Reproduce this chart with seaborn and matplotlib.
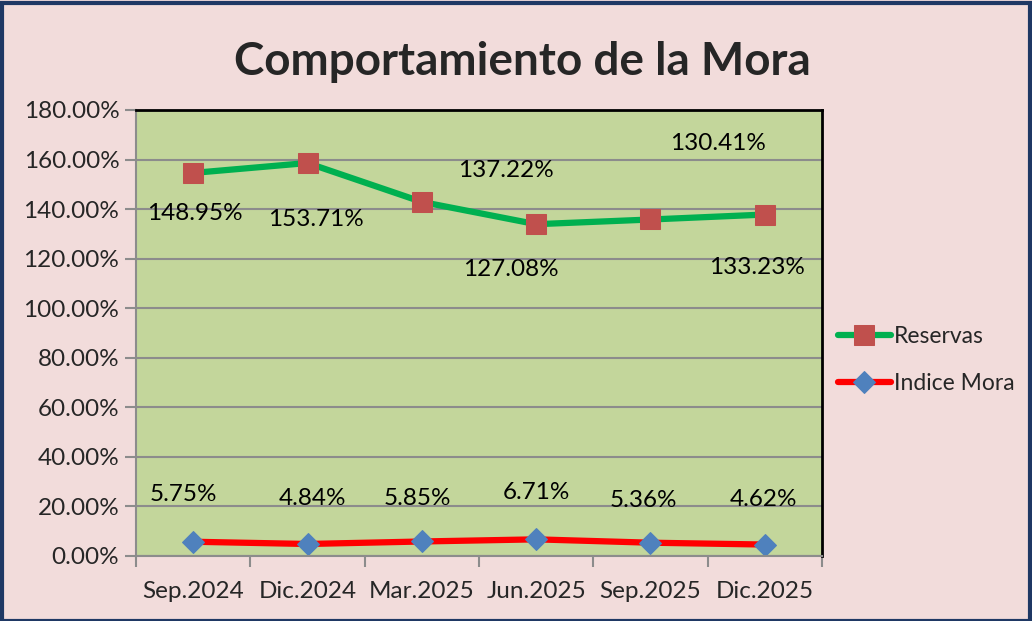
import pandas as pd
import matplotlib.pyplot as plt
import seaborn as sns
from matplotlib.patches import Rectangle
from matplotlib.ticker import FixedLocator, FuncFormatter

# Data
periodos = ['Sep.2024', 'Dic.2024', 'Mar.2025', 'Jun.2025', 'Sep.2025', 'Dic.2025']
reservas = [154.6, 158.6, 142.9, 133.9, 135.8, 137.8]
reservas_labels = ['148.95%', '153.71%', '137.22%', '127.08%', '130.41%', '133.23%']
mora = [5.75, 4.84, 5.85, 6.71, 5.36, 4.62]
mora_labels = ['5.75%', '4.84%', '5.85%', '6.71%', '5.36%', '4.62%']

# label offsets in pixels (Excel labels were dragged around)
res_off = [(2, -41), (8, -56), (84, 31), (-25, -45), (67, 76), (-8, -53)]
mora_off = [(-10, 47), (5, 45), (-4, 43), (0, 47), (-7, 42), (-1, 45)]

df = pd.DataFrame({'Periodo': periodos, 'Reservas': reservas, 'Indice Mora': mora})

sns.set_theme(style='white')
plt.rcParams['font.family'] = ['Lato', 'DejaVu Sans']

fig = plt.figure(figsize=(10.32, 6.21), dpi=100, facecolor='#F2DCDB')
fig.patches.append(Rectangle((0.002, 0.0), 0.996, 0.995, transform=fig.transFigure,
                             fill=False, edgecolor='#1F3864', lw=3))
ax = fig.add_axes([0.1318, 0.1047, 0.6647, 0.7182])
ax.set_facecolor('#C3D69B')

sns.lineplot(data=df, x='Periodo', y='Reservas', ax=ax, color='#00B050', lw=4.5,
             marker='s', markersize=14, markerfacecolor='#C0504D', markeredgecolor='#C0504D',
             label='Reservas', sort=False)
sns.lineplot(data=df, x='Periodo', y='Indice Mora', ax=ax, color='#FF0000', lw=4.5,
             marker='D', markersize=11, markerfacecolor='#4F81BD', markeredgecolor='#4F81BD',
             label='Indice Mora', sort=False)

for i, (v, t) in enumerate(zip(reservas, reservas_labels)):
    ax.annotate(t, (i, v), xytext=res_off[i], textcoords='offset pixels',
                ha='center', va='center', fontsize=17.5, color='black')
for i, (v, t) in enumerate(zip(mora, mora_labels)):
    ax.annotate(t, (i, v), xytext=mora_off[i], textcoords='offset pixels',
                ha='center', va='center', fontsize=17.5, color='black')

ax.set_xlim(-0.5, 5.5)
ax.set_ylim(0, 180)
ax.set_yticks(range(0, 181, 20))
ax.yaxis.set_major_formatter(FuncFormatter(lambda v, p: f'{v:.2f}%'))
ax.grid(axis='y', color='#8C8C8C', lw=1.5)
ax.set_axisbelow(True)
ax.set_xlabel('')
ax.set_ylabel('')

ax.xaxis.set_minor_locator(FixedLocator([i - 0.5 for i in range(7)]))
ax.tick_params(axis='x', which='major', length=0, pad=18, labelsize=17.5)
ax.tick_params(axis='x', which='minor', length=8, color='#8C8C8C', width=1.5, direction='out', bottom=True)
ax.tick_params(axis='y', length=8, color='#8C8C8C', width=1.5, direction='out', left=True,
               labelsize=17.5, pad=4)

for s in ['left', 'bottom']:
    ax.spines[s].set_color('#8C8C8C')
    ax.spines[s].set_linewidth(1.5)
for s in ['top', 'right']:
    ax.spines[s].set_color('black')
    ax.spines[s].set_linewidth(2)

ax.legend(loc='center left', bbox_to_anchor=(1.0, 0.44), frameon=False, fontsize=16.5,
          handlelength=2.3, labelspacing=1.15, handletextpad=0.15, borderaxespad=0.3)

fig.text(0.506, 0.90, 'Comportamiento de la Mora', ha='center', va='center',
         fontsize=33, fontweight='bold')

fig.savefig('out.png', dpi=100, facecolor=fig.get_facecolor())
